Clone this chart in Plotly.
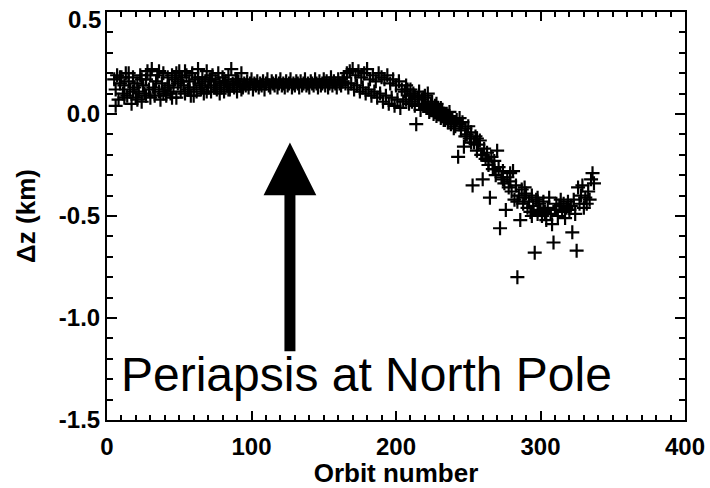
import plotly.graph_objects as go

# orbit number vs height offset (km)
orbit_a = [5, 6, 7, 8, 9, 10, 11, 12, 13, 14, 15, 16, 17, 18, 19, 20, 21, 22, 23, 24,
           25, 26, 27, 28, 29, 30, 31, 32, 33, 34, 35, 36, 37, 38, 39, 40, 41, 42, 43, 44,
           45, 46, 47, 48, 49, 50, 51, 52, 53, 54, 55, 56, 57, 58, 59, 60, 61, 62, 63, 64,
           65, 66, 67, 68, 69, 70, 71, 72, 73, 74, 75, 76, 77, 78, 79, 80, 81, 82, 83, 84,
           85, 86, 87, 88, 89, 90, 91, 92, 93, 94, 95]
dz_a = [0.17, 0.12, 0.19, 0.07, 0.15, 0.18, 0.10, 0.14, 0.20, 0.09, 0.16, 0.12, 0.05, 0.18, 0.13,
        0.08, 0.15, 0.11, 0.19, 0.06, 0.14, 0.10, 0.17, 0.21, 0.12, 0.08, 0.22, 0.13, 0.09, 0.16,
        0.19, 0.11, 0.07, 0.15, 0.20, 0.12, 0.09, 0.18, 0.14, 0.10, 0.19, 0.13, 0.17, 0.08, 0.15,
        0.21, 0.11, 0.18, 0.14, 0.10, 0.19, 0.12, 0.16, 0.09, 0.20, 0.13, 0.17, 0.11, 0.22, 0.15,
        0.12, 0.18, 0.10, 0.16, 0.21, 0.13, 0.17, 0.11, 0.19, 0.14, 0.16, 0.12, 0.20, 0.15, 0.13,
        0.18, 0.11, 0.16, 0.14, 0.19, 0.12, 0.22, 0.15, 0.13, 0.17, 0.11, 0.16, 0.14, 0.20, 0.13,
        0.15]

orbit_a2 = [6, 9, 12, 15, 18, 21, 24, 27, 30, 33, 36, 39, 42, 45, 48, 51, 54, 57, 60, 63,
            66, 69, 72, 75, 78, 81, 84, 87, 90, 93]
dz_a2 = [0.04, 0.18, 0.08, 0.20, 0.11, 0.07, 0.17, 0.09, 0.19, 0.12, 0.21, 0.10, 0.13, 0.08,
         0.20, 0.16, 0.21, 0.13, 0.09, 0.18, 0.14, 0.11, 0.17, 0.13, 0.10, 0.15, 0.12, 0.14,
         0.17, 0.12]

orbit_b = [96, 97, 98, 99, 100, 101, 102, 103, 104, 105, 106, 107, 108, 109, 110, 111, 112,
           113, 114, 115, 116, 117, 118, 119, 120, 121, 122, 123, 124, 125, 126, 127, 128, 129,
           130, 131, 132, 133, 134, 135, 136, 137, 138, 139, 140, 141, 142, 143, 144, 145, 146,
           147, 148, 149, 150, 151, 152, 153, 154, 155, 156, 157, 158, 159, 160, 161, 162, 163,
           164, 165]
dz_b = [0.14, 0.16, 0.13, 0.15, 0.17, 0.12, 0.15, 0.14, 0.16, 0.13, 0.15, 0.14, 0.16, 0.12,
        0.15, 0.17, 0.14, 0.13, 0.16, 0.15, 0.14, 0.16, 0.13, 0.15, 0.17, 0.14, 0.15, 0.13,
        0.16, 0.14, 0.15, 0.17, 0.13, 0.15, 0.14, 0.16, 0.15, 0.13, 0.16, 0.14, 0.15, 0.17,
        0.14, 0.15, 0.13, 0.16, 0.15, 0.14, 0.17, 0.15, 0.13, 0.16, 0.14, 0.15, 0.17, 0.14,
        0.16, 0.13, 0.15, 0.18, 0.14, 0.16, 0.15, 0.13, 0.17, 0.15, 0.14, 0.16, 0.18, 0.15]

orbit_c = [166, 167, 168, 169, 170, 171, 172, 173, 174, 175, 176, 177, 178, 179, 180, 181,
           182, 183, 184, 185, 186, 187, 188, 189, 190, 191, 192, 193, 194, 195, 196, 197,
           198, 199, 200, 201, 202, 203, 204, 205]
dz_c = [0.20, 0.13, 0.21, 0.15, 0.22, 0.12, 0.19, 0.14, 0.21, 0.11, 0.18, 0.13, 0.20, 0.10,
        0.22, 0.12, 0.17, 0.09, 0.19, 0.11, 0.16, 0.08, 0.20, 0.10, 0.18, 0.06, 0.17, 0.09,
        0.19, 0.05, 0.15, 0.08, 0.17, 0.04, 0.14, 0.07, 0.16, 0.03, 0.12, 0.06]

orbit_d = [206, 207, 208, 209, 210, 211, 212, 213, 214, 215, 216, 217, 218, 219, 220, 221,
           222, 223, 224, 225, 226, 227, 228, 229, 230, 231, 232, 233, 234, 235, 236, 237,
           238, 239, 240, 241, 242, 243, 244, 245, 246, 247, 248, 249, 250, 251, 252, 253,
           254, 255, 256, 257, 258, 259, 260, 261, 262, 263, 264, 265, 266, 267, 268, 269,
           270, 271, 272, 273, 274, 275, 276, 277, 278, 279, 280, 281, 282, 283, 284, 285,
           286, 287, 288, 289, 290, 291, 292, 293, 294, 295, 296, 297, 298, 299, 300]
dz_d = [0.11, 0.07, 0.12, 0.05, 0.09, 0.06, 0.10, 0.04, -0.05, 0.08, 0.05, 0.02, 0.07, 0.04,
        0.09, 0.03, 0.06, 0.01, 0.05, 0.02, 0.00, 0.04, -0.01, 0.03, 0.01, -0.02, 0.02, -0.03,
        0.00, -0.02, -0.04, 0.01, -0.05, -0.02, -0.04, -0.06, -0.03, -0.21, -0.05, -0.08,
        -0.04, -0.16, -0.07, -0.10, -0.06, -0.12, -0.09, -0.35, -0.14, -0.11, -0.18, -0.15,
        -0.13, -0.20, -0.32, -0.17, -0.22, -0.19, -0.25, -0.41, -0.21, -0.27, -0.23, -0.30,
        -0.18, -0.26, -0.56, -0.31, -0.28, -0.34, -0.47, -0.31, -0.36, -0.29, -0.38, -0.28,
        -0.42, -0.35, -0.80, -0.40, -0.52, -0.37, -0.44, -0.41, -0.39, -0.46, -0.43, -0.48,
        -0.40, -0.45, -0.68, -0.42, -0.49, -0.44, -0.47]

orbit_d2 = [207, 210, 213, 216, 219, 222, 225, 228, 231, 234, 237, 240, 244, 248, 252, 256,
            260, 264, 268, 274, 279, 284, 289, 294, 298]
dz_d2 = [0.14, 0.12, 0.09, 0.11, 0.08, 0.10, 0.06, 0.05, 0.03, -0.03, -0.01, -0.07, -0.02,
         -0.11, -0.14, -0.12, -0.20, -0.23, -0.27, -0.32, -0.33, -0.43, -0.36, -0.50, -0.41]

orbit_e = [301, 302, 303, 304, 305, 306, 307, 308, 309, 310, 311, 312, 313, 314, 315, 316,
           317, 318, 319, 320, 321, 322, 323, 324, 325, 326, 327, 328, 329, 330, 331, 332,
           333, 334, 335, 336, 337]
dz_e = [-0.50, -0.43, -0.48, -0.52, -0.46, -0.41, -0.49, -0.54, -0.63, -0.47, -0.44, -0.50,
        -0.45, -0.42, -0.48, -0.44, -0.51, -0.46, -0.43, -0.47, -0.45, -0.58, -0.42, -0.49,
        -0.67, -0.36, -0.44, -0.40, -0.35, -0.46, -0.41, -0.44, -0.38, -0.42, -0.32, -0.29,
        -0.34]

orbit = orbit_a + orbit_a2 + orbit_b + orbit_c + orbit_d + orbit_d2 + orbit_e
dz = dz_a + dz_a2 + dz_b + dz_c + dz_d + dz_d2 + dz_e

x_ticks = [0, 100, 200, 300, 400]
y_ticks = [-1.5, -1.0, -0.5, 0.0]
y_tick_text = ["-1.5", "-1.0", "-0.5", "0.0"]
y_top_label = "0.5"  # sits just below the top edge, as in the reference

# arrow marking the north-pole periapsis
arrow_x = 126.6
arrow_tip = -0.14
arrow_tail = -1.17

fig = go.Figure()
fig.add_trace(go.Scatter(
    x=orbit, y=dz, mode="markers",
    marker=dict(symbol="cross-thin", size=10, line=dict(color="black", width=2.2)),
    showlegend=False,
))

fig.add_annotation(
    x=arrow_x, y=arrow_tip, ax=arrow_x, ay=arrow_tail,
    xref="x", yref="y", axref="x", ayref="y",
    text="", showarrow=True, arrowhead=2, arrowsize=0.96, arrowwidth=11,
    arrowcolor="black",
)
fig.add_annotation(
    x=8, y=-1.275, xref="x", yref="y", xanchor="left", yanchor="middle",
    text="Periapsis at North Pole", showarrow=False,
    font=dict(family="Liberation Sans", size=48, color="black"),
)

tickfont = dict(family="Liberation Sans", size=24, color="black", weight="bold")

fig.add_annotation(
    x=0, y=1, xref="paper", yref="paper", xanchor="right", yanchor="top",
    xshift=-4, yshift=8, text=y_top_label, showarrow=False, font=tickfont,
)

axis_common = dict(
    showline=True, linecolor="black", linewidth=2, mirror="ticks",
    ticks="inside", tickcolor="black", tickwidth=2, showgrid=False, zeroline=False,
    tickfont=tickfont, automargin=False, ticklabeloverflow="allow",
)

fig.update_xaxes(
    range=[0, 400], tickvals=x_ticks, ticklen=9, ticklabelstandoff=4,
    minor=dict(dtick=10, ticks="inside", ticklen=5, tickcolor="black", tickwidth=2),
    title=dict(text="Orbit number", standoff=10,
               font=dict(family="Liberation Sans", size=26, color="black", weight="bold")),
    **axis_common,
)
fig.update_yaxes(
    range=[-1.5, 0.5], tickvals=y_ticks, ticktext=y_tick_text, ticklen=10,
    minor=dict(dtick=0.1, ticks="inside", ticklen=6, tickcolor="black", tickwidth=2),
    title=dict(text="Δz (km)", standoff=16,
               font=dict(family="Liberation Sans", size=26, color="black", weight="bold")),
    **axis_common,
)

fig.update_layout(
    width=710, height=488,
    margin=dict(l=107, r=25, t=12, b=68),
    plot_bgcolor="white", paper_bgcolor="white",
)

fig.write_html("out.html", config={"displayModeBar": False},
               post_script="document.body.style.margin = '0';")
